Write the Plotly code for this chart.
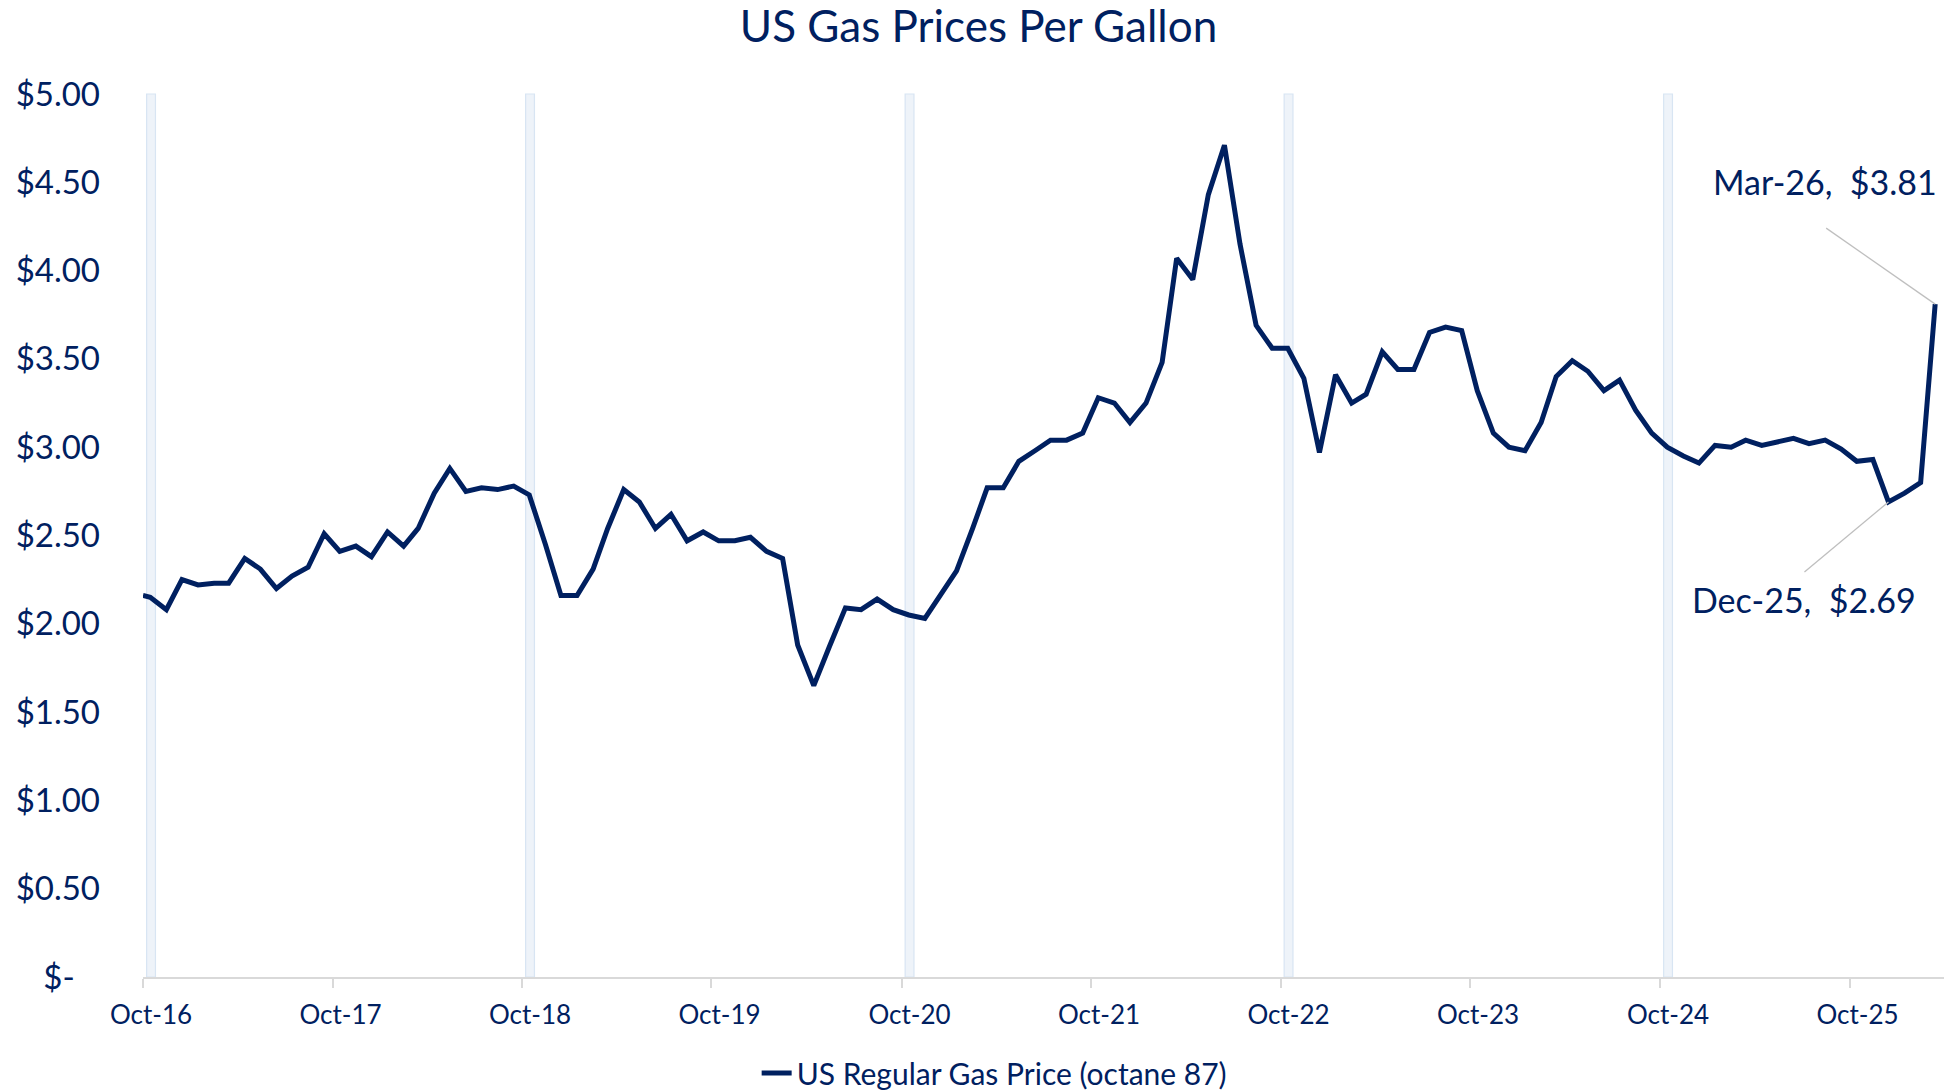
import plotly.graph_objects as go
import pandas as pd

# ---- data ----
series_name = "US Regular Gas Price (octane 87)"
first_date = ["2016-10-01"]
first_value = [2.16]
month_starts = pd.date_range("2016-10-01", "2026-03-01", freq="MS")
monthly_dates = [(d + pd.Timedelta(days=14)).strftime("%Y-%m-%d") for d in month_starts]
month_labels = [d.strftime("%b-%y") for d in month_starts]
monthly_values = [
    2.15, 2.08, 2.25, 2.22, 2.23, 2.23, 2.37, 2.31, 2.20, 2.27, 2.32, 2.51,   # Oct16-Sep17
    2.41, 2.44, 2.38, 2.52, 2.44, 2.54, 2.74, 2.88, 2.75, 2.77, 2.76, 2.78,   # Oct17-Sep18
    2.73, 2.45, 2.16, 2.16, 2.31, 2.54, 2.76, 2.69, 2.54, 2.62, 2.47, 2.52,   # Oct18-Sep19
    2.47, 2.47, 2.49, 2.41, 2.37, 1.88, 1.65, 1.87, 2.09, 2.08, 2.14, 2.08,   # Oct19-Sep20
    2.05, 2.03, 2.16, 2.30, 2.54, 2.77, 2.77, 2.92, 2.98, 3.04, 3.04, 3.08,   # Oct20-Sep21
    3.28, 3.25, 3.14, 3.25, 3.48, 4.07, 3.95, 4.43, 4.71, 4.15, 3.69, 3.56,   # Oct21-Sep22
    3.56, 3.39, 2.97, 3.41, 3.25, 3.30, 3.54, 3.44, 3.44, 3.65, 3.68, 3.66,   # Oct22-Sep23
    3.32, 3.08, 3.00, 2.98, 3.14, 3.40, 3.49, 3.43, 3.32, 3.38, 3.21, 3.08,   # Oct23-Sep24
    3.00, 2.95, 2.91, 3.01, 3.00, 3.04, 3.01, 3.03, 3.05, 3.02, 3.04, 2.99,   # Oct24-Sep25
    2.92, 2.93, 2.69, 2.74, 2.80, 3.81,                                       # Oct25-Mar26
]
dates = first_date + monthly_dates
values = first_value + monthly_values

band_years = [2016, 2018, 2020, 2022, 2024]
y_tickvals = [0, 0.5, 1.0, 1.5, 2.0, 2.5, 3.0, 3.5, 4.0, 4.5, 5.0]
y_ticktext = ["$-\u00a0\u00a0\u00a0" if v == 0 else f"${v:.2f}" for v in y_tickvals]
x_tickvals = [f"{y}-10-01" for y in range(2016, 2026)]
x_ticktext = [f"Oct-{str(y)[2:]}" for y in range(2016, 2026)]

callouts = ["Dec-25", "Mar-26"]
callout_text_shift = {"Dec-25": (-84, -98), "Mar-26": (-110, 123)}
callout_leader = {"Dec-25": (-84, -70), "Mar-26": (-109, 76)}

NAVY = "#002060"
FONT = "Lato"

fig = go.Figure()
fig.add_trace(go.Scatter(
    x=dates, y=values, mode="lines", name=series_name,
    line=dict(color=NAVY, width=5),
))

shapes = []
for yr in band_years:
    shapes.append(dict(
        type="rect", xref="x", yref="paper",
        x0=f"{yr}-10-08", x1=f"{yr}-10-25", y0=0, y1=1,
        fillcolor="#EEF3F9", line=dict(color="#D8E5F3", width=1.2), layer="below",
    ))

annotations = []
for lab in callouts:
    i = month_labels.index(lab)
    d, v = monthly_dates[i], monthly_values[i]
    dx, dy = callout_leader[lab]
    shapes.append(dict(
        type="line", xref="x", yref="y", xsizemode="pixel", ysizemode="pixel",
        xanchor=d, yanchor=v, x0=0, x1=dx, y0=0, y1=dy,
        line=dict(color="#BFBFBF", width=1.3),
    ))
    sx, sy = callout_text_shift[lab]
    annotations.append(dict(
        x=d, y=v, xref="x", yref="y", showarrow=False,
        text=f"{lab},\u00a0 ${v:.2f}", xshift=sx, yshift=sy,
        xanchor="center", yanchor="middle",
        font=dict(family=FONT, size=34, color=NAVY),
    ))

fig.update_layout(
    width=1957, height=1091,
    margin=dict(l=143, r=13, t=94, b=114),
    paper_bgcolor="white", plot_bgcolor="white",
    title=dict(text="US Gas Prices Per Gallon", x=0.5, xref="container", xanchor="center",
               y=1 - 27 / 1091, yref="container", yanchor="middle",
               font=dict(family=FONT, size=44, color=NAVY)),
    showlegend=True,
    legend=dict(orientation="h", xref="container", yref="container",
                x=0.508, xanchor="center", y=18 / 1091, yanchor="middle",
                font=dict(family=FONT, size=30, color=NAVY), bgcolor="rgba(0,0,0,0)"),
    shapes=shapes,
    annotations=annotations,
)
fig.update_xaxes(
    type="date", range=["2016-10-01", "2026-04-01"],
    tickvals=x_tickvals, ticktext=x_ticktext,
    showgrid=False, zeroline=False,
    showline=True, linecolor="#D9D9D9", linewidth=2,
    ticks="outside", ticklen=9, tickwidth=1.5, tickcolor="#D9D9D9",
    ticklabelshift=8, ticklabelstandoff=5,
    tickfont=dict(family=FONT, size=26, color=NAVY),
)
fig.update_yaxes(
    range=[0, 5], tickvals=y_tickvals, ticktext=y_ticktext,
    showgrid=False, zeroline=False, showline=False, ticks="",
    ticklabelstandoff=42,
    tickfont=dict(family=FONT, size=33, color=NAVY),
)

fig.write_html("out.html", config={"displayModeBar": False},
               post_script="document.body.style.margin='0';")
